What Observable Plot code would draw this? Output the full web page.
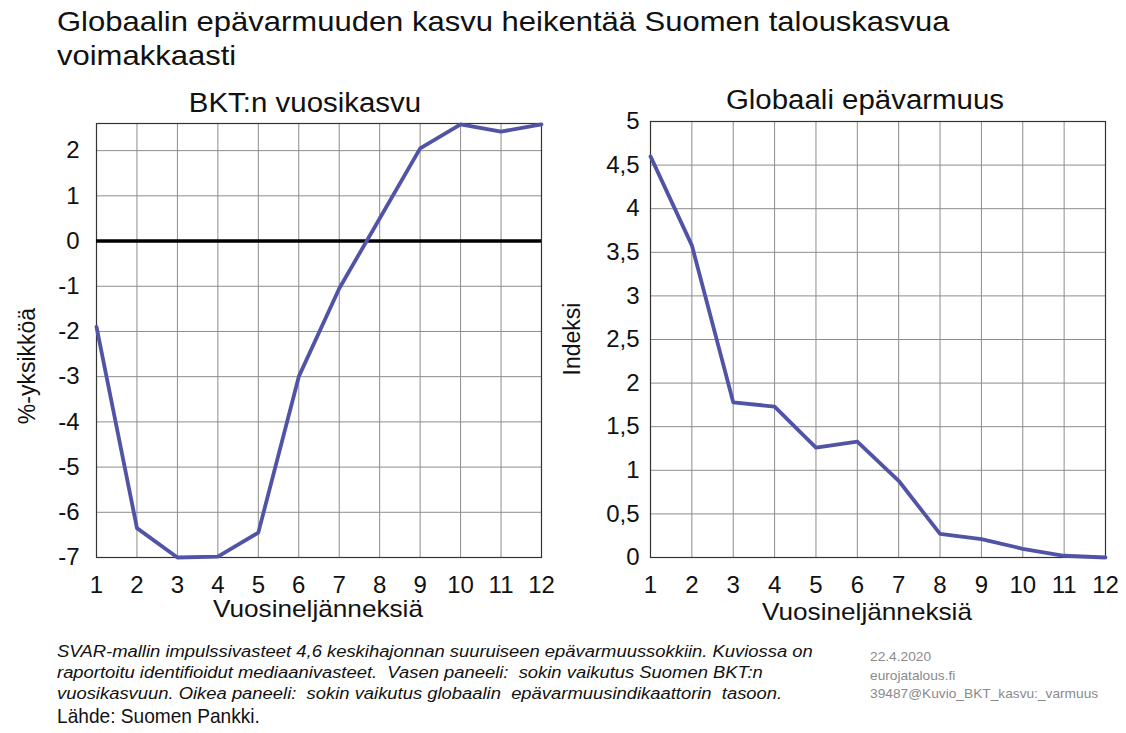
<!DOCTYPE html>
<html>
<head>
<meta charset="utf-8">
<script src="https://cdn.jsdelivr.net/npm/d3@7"></script>
<script src="https://cdn.jsdelivr.net/npm/@observablehq/plot@0.6"></script>
<style>
  html, body { margin: 0; padding: 0; background: #fff; }
  #root { position: relative; width: 1126px; height: 733px; overflow: hidden; background: #fff;
          font-family: "Liberation Sans", Arial, sans-serif; color: #111; }
  .abs { position: absolute; white-space: nowrap; }
  .sx { transform-origin: left top; }
  .c { transform: translate(-50%, -50%) scaleX(1.09); }
  .rot { transform: translate(-50%, -50%) rotate(-90deg); }
</style>
</head>
<body>
<div id="root">
  <div class="abs sx" style="left:57px; top:5px; font-size:28px; line-height:34px; transform:scaleX(1.107);">Globaalin epävarmuuden kasvu heikentää Suomen talouskasvua<br>voimakkaasti</div>
  <div class="abs c" style="left:305px; top:103px; font-size:27px;">BKT:n vuosikasvu</div>
  <div class="abs c" style="left:865px; top:100px; font-size:27px;">Globaali epävarmuus</div>
  <div class="abs rot" style="left:27px; top:366px; font-size:23px;">%-yksikköä</div>
  <div class="abs rot" style="left:572px; top:339px; font-size:23px;">Indeksi</div>
  <div class="abs c" style="left:318px; top:609px; font-size:24px;">Vuosineljänneksiä</div>
  <div class="abs c" style="left:867px; top:612px; font-size:24px;">Vuosineljänneksiä</div>
  <div class="abs sx" style="left:57px; top:641px; font-size:16px; line-height:21px; font-style:italic; transform:scaleX(1.15);">SVAR-mallin impulssivasteet 4,6 keskihajonnan suuruiseen epävarmuussokkiin. Kuviossa on<br>raportoitu identifioidut mediaanivasteet.&nbsp; Vasen paneeli:&nbsp; sokin vaikutus Suomen BKT:n<br>vuosikasvuun. Oikea paneeli:&nbsp; sokin vaikutus globaalin&nbsp; epävarmuusindikaattorin&nbsp; tasoon.</div>
  <div class="abs sx" style="left:57px; top:704px; font-size:21px; transform:scaleX(0.91);">Lähde: Suomen Pankki.</div>
  <div class="abs sx" style="left:870px; top:648px; font-size:13px; line-height:18.5px; color:#8a8a8a; transform:scaleX(1.055);">22.4.2020<br>eurojatalous.fi<br>39487@Kuvio_BKT_kasvu:_varmuus</div>
  <div id="left" class="abs" style="left:0px; top:100px;"></div>
  <div id="right" class="abs" style="left:560px; top:98px;"></div>
</div>
<script>
// Data
const quarters = [1, 2, 3, 4, 5, 6, 7, 8, 9, 10, 11, 12];
const gdpGrowth = [-1.9, -6.35, -7.0, -6.98, -6.45, -3.0, -1.05, 0.5, 2.05, 2.58, 2.42, 2.58];
const uncertainty = [4.6, 3.58, 1.78, 1.73, 1.26, 1.33, 0.88, 0.27, 0.21, 0.1, 0.02, 0.0];
const leftTicks = [-7, -6, -5, -4, -3, -2, -1, 0, 1, 2];
const rightTicks = [0, 0.5, 1, 1.5, 2, 2.5, 3, 3.5, 4, 4.5, 5];

const lineColor = "#5053a6";
const gridColor = "#8c8c8c";
const fontStyle = {fontSize: "24px", fontFamily: "'Liberation Sans', Arial, sans-serif", color: "#111", background: "transparent", overflow: "visible"};

const leftData = quarters.map((q, i) => ({q, v: gdpGrowth[i]}));
const rightData = quarters.map((q, i) => ({q, v: uncertainty[i]}));

const left = Plot.plot({
  width: 560, height: 530,
  marginLeft: 96, marginRight: 19, marginTop: 23, marginBottom: 73,
  style: fontStyle,
  x: {domain: [1, 12], label: null},
  y: {domain: [-7, 2.6], label: null},
  marks: [
    Plot.gridX(quarters, {stroke: gridColor, strokeOpacity: 1, strokeWidth: 1}),
    Plot.gridY(leftTicks, {stroke: gridColor, strokeOpacity: 1, strokeWidth: 1}),
    Plot.frame({stroke: "#333", strokeWidth: 1.2}),
    Plot.ruleY([0], {stroke: "#000", strokeWidth: 3.5}),
    Plot.line(leftData, {x: "q", y: "v", stroke: lineColor, strokeWidth: 3.8, strokeLinejoin: "round"}),
    Plot.axisX(quarters, {tickSize: 0, tickPadding: 18, tickFormat: d => String(d), fontSize: 24}),
    Plot.axisY(leftTicks, {tickSize: 0, tickPadding: 17, tickFormat: d => String(d), fontSize: 24})
  ]
});
document.getElementById("left").appendChild(left);

const right = Plot.plot({
  width: 566, height: 532,
  marginLeft: 90, marginRight: 21, marginTop: 23, marginBottom: 73,
  style: fontStyle,
  x: {domain: [1, 12], label: null},
  y: {domain: [0, 5], label: null},
  marks: [
    Plot.gridX(quarters, {stroke: gridColor, strokeOpacity: 1, strokeWidth: 1}),
    Plot.gridY(rightTicks, {stroke: gridColor, strokeOpacity: 1, strokeWidth: 1}),
    Plot.frame({stroke: "#333", strokeWidth: 1.2}),
    Plot.line(rightData, {x: "q", y: "v", stroke: lineColor, strokeWidth: 3.8, strokeLinejoin: "round"}),
    Plot.axisX(quarters, {tickSize: 0, tickPadding: 18, tickFormat: d => String(d), fontSize: 24}),
    Plot.axisY(rightTicks, {tickSize: 0, tickPadding: 11, tickFormat: d => String(d).replace(".", ","), fontSize: 24})
  ]
});
document.getElementById("right").appendChild(right);
</script>
</body>
</html>
